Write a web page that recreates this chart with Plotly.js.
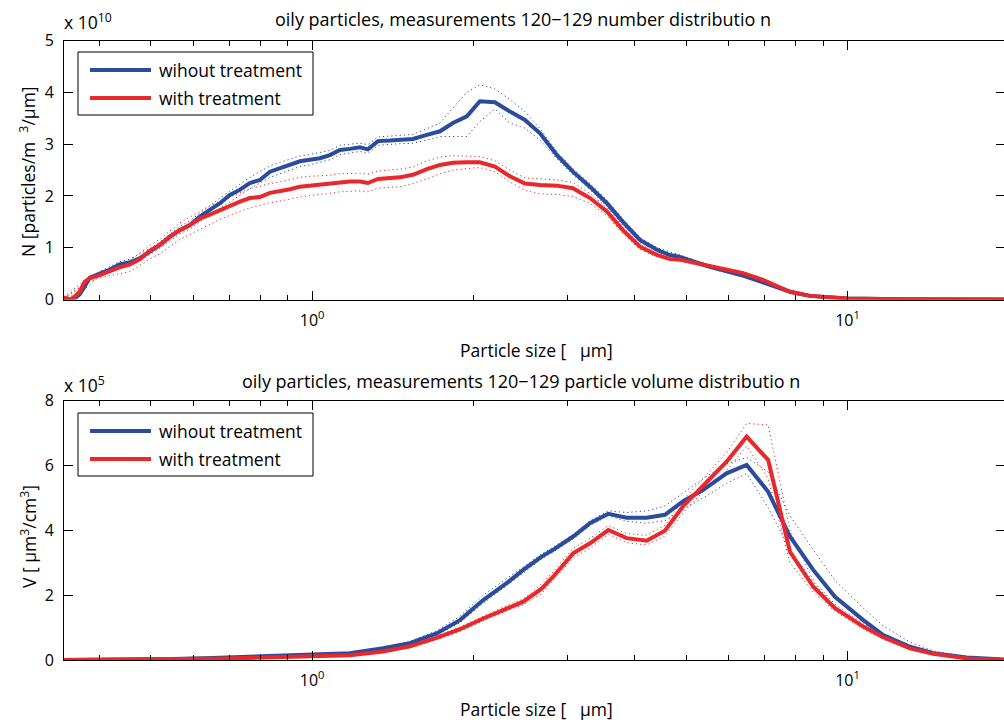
<!DOCTYPE html>
<html>
<head>
<meta charset="utf-8">
<script src="https://cdn.plot.ly/plotly-3.0.1.min.js"></script>
<style>
  html, body { margin: 0; padding: 0; overflow: hidden; background: #fff; }
</style>
</head>
<body>
<div id="chart"></div>
<script>
// ---- number distribution (N, units of 1e10 particles/m^3/µm) ----
const sizeN = [0.344, 0.353, 0.360, 0.368, 0.376, 0.384, 0.401, 0.419, 0.437, 0.457, 0.477, 0.497, 0.519, 0.542, 0.566, 0.591,
  0.617, 0.644, 0.673, 0.702, 0.733, 0.765, 0.799, 0.834, 0.870, 0.909, 0.949, 0.990, 1.034, 1.079, 1.127, 1.176, 1.228,
  1.271, 1.327, 1.397, 1.458, 1.542, 1.638, 1.733, 1.832, 1.945, 2.057, 2.194, 2.341, 2.497, 2.664, 2.865, 3.069, 3.303,
  3.552, 3.805, 4.095, 4.405, 4.658, 4.863, 5.533, 6.377, 6.950, 7.806, 8.506, 9.973, 12.53, 15.53, 19.68];
const numWithout = [0.0, 0.0, 0.02, 0.10, 0.25, 0.42, 0.50, 0.58, 0.68, 0.72, 0.80, 0.92, 1.05, 1.21, 1.34, 1.44,
  1.60, 1.73, 1.86, 2.02, 2.12, 2.25, 2.31, 2.47, 2.54, 2.60, 2.67, 2.70, 2.73, 2.79, 2.89, 2.91, 2.94,
  2.90, 3.06, 3.07, 3.09, 3.10, 3.18, 3.25, 3.41, 3.54, 3.83, 3.81, 3.63, 3.47, 3.21, 2.79, 2.47, 2.18,
  1.86, 1.50, 1.15, 0.96, 0.86, 0.82, 0.63, 0.46, 0.33, 0.15, 0.07, 0.02, 0.005, 0.002, 0.001];
const numWith = [0.04, 0.0, 0.05, 0.15, 0.34, 0.41, 0.47, 0.55, 0.62, 0.68, 0.78, 0.94, 1.05, 1.21, 1.34, 1.44,
  1.56, 1.64, 1.73, 1.82, 1.89, 1.96, 1.98, 2.06, 2.09, 2.13, 2.18, 2.20, 2.21, 2.23, 2.26, 2.28, 2.28,
  2.25, 2.33, 2.34, 2.36, 2.41, 2.52, 2.60, 2.64, 2.65, 2.65, 2.57, 2.38, 2.24, 2.21, 2.20, 2.15, 1.96,
  1.70, 1.34, 1.02, 0.86, 0.78, 0.77, 0.64, 0.51, 0.38, 0.15, 0.07, 0.02, 0.005, 0.002, 0.001];

// spread envelopes of the single measurements
const sizeNBand = [0.344, 0.376, 0.401, 0.437, 0.457, 0.497, 0.519, 0.566, 0.591, 0.644, 0.673, 0.733, 0.765, 0.834, 0.870,
  0.949, 0.990, 1.079, 1.127, 1.228, 1.271, 1.327, 1.458, 1.542, 1.638, 1.733, 1.832, 1.945, 2.057, 2.194, 2.341, 2.497,
  2.664, 2.865, 3.069, 3.303, 3.552, 3.805, 4.095, 4.405, 4.863, 5.533, 6.377, 6.950, 7.806, 8.506, 9.973, 12.53, 19.68];
const numWithoutHi = [0.02, 0.30, 0.54, 0.73, 0.78, 0.98, 1.11, 1.41, 1.52, 1.82, 1.96, 2.23, 2.36, 2.58, 2.65,
  2.77, 2.80, 2.88, 2.98, 3.02, 2.99, 3.14, 3.17, 3.19, 3.30, 3.41, 3.70, 4.00, 4.15, 4.07, 3.86, 3.63,
  3.30, 2.86, 2.53, 2.24, 1.92, 1.56, 1.20, 1.00, 0.86, 0.66, 0.48, 0.35, 0.16, 0.08, 0.02, 0.005, 0.001];
const numWithoutLo = [0.0, 0.20, 0.46, 0.63, 0.66, 0.86, 0.99, 1.27, 1.36, 1.64, 1.76, 2.01, 2.14, 2.36, 2.43,
  2.57, 2.60, 2.70, 2.80, 2.86, 2.82, 2.98, 3.01, 3.02, 3.08, 3.15, 3.15, 3.15, 3.44, 3.68, 3.41, 3.31,
  3.08, 2.72, 2.41, 2.12, 1.80, 1.45, 1.10, 0.92, 0.78, 0.60, 0.44, 0.31, 0.14, 0.06, 0.02, 0.004, 0.001];
const numWithHi = [0.05, 0.37, 0.51, 0.68, 0.76, 1.04, 1.16, 1.48, 1.59, 1.81, 1.90, 2.07, 2.14, 2.24, 2.27,
  2.36, 2.38, 2.40, 2.43, 2.44, 2.42, 2.48, 2.52, 2.56, 2.68, 2.75, 2.78, 2.77, 2.76, 2.68, 2.50, 2.35,
  2.33, 2.31, 2.26, 2.05, 1.78, 1.41, 1.07, 0.90, 0.80, 0.67, 0.54, 0.40, 0.16, 0.08, 0.02, 0.005, 0.001];
const numWithLo = [0.03, 0.30, 0.42, 0.50, 0.54, 0.78, 0.88, 1.16, 1.26, 1.46, 1.55, 1.70, 1.77, 1.87, 1.90,
  1.98, 2.01, 2.05, 2.08, 2.10, 2.08, 2.15, 2.18, 2.24, 2.33, 2.43, 2.50, 2.53, 2.55, 2.47, 2.27, 2.11,
  2.04, 2.03, 1.99, 1.86, 1.62, 1.27, 0.97, 0.82, 0.74, 0.61, 0.48, 0.36, 0.14, 0.06, 0.02, 0.005, 0.001];

// ---- particle volume distribution (V, units of 1e5 µm^3/cm^3) ----
const sizeV = [0.344, 0.45, 0.55, 0.65, 0.75, 0.85, 1.0, 1.176, 1.357, 1.522, 1.708, 1.888, 2.087, 2.308, 2.479, 2.683,
  2.819, 3.073, 3.303, 3.573, 3.867, 4.214, 4.559, 4.933, 5.376, 5.944, 6.479, 7.108, 7.806, 8.628, 9.474, 10.70,
  11.66, 13.08, 14.46, 16.69, 19.68];
const volWithout = [0, 0.01, 0.03, 0.06, 0.09, 0.12, 0.16, 0.21, 0.36, 0.52, 0.82, 1.23, 1.85, 2.37, 2.78, 3.19,
  3.40, 3.81, 4.22, 4.51, 4.39, 4.39, 4.48, 4.90, 5.25, 5.76, 6.02, 5.19, 3.81, 2.78, 1.95, 1.23,
  0.77, 0.41, 0.21, 0.08, 0.01];
const volWith = [0, 0.01, 0.02, 0.04, 0.06, 0.08, 0.11, 0.15, 0.26, 0.42, 0.68, 0.95, 1.28, 1.60, 1.80, 2.20,
  2.57, 3.29, 3.60, 4.01, 3.76, 3.68, 3.99, 4.75, 5.40, 6.12, 6.89, 6.17, 3.34, 2.26, 1.60, 1.03,
  0.70, 0.36, 0.19, 0.05, 0.0];
const volWithoutHi = [0, 0.01, 0.03, 0.06, 0.10, 0.13, 0.17, 0.23, 0.39, 0.57, 0.90, 1.35, 2.00, 2.50, 2.88, 3.27,
  3.48, 3.88, 4.30, 4.60, 4.55, 4.60, 4.75, 5.15, 5.60, 6.05, 6.25, 5.80, 4.45, 3.40, 2.45, 1.60,
  1.05, 0.55, 0.28, 0.10, 0.01];
const volWithoutLo = [0, 0.01, 0.03, 0.05, 0.08, 0.11, 0.15, 0.19, 0.33, 0.48, 0.76, 1.15, 1.75, 2.28, 2.68, 3.12,
  3.33, 3.74, 4.15, 4.45, 4.28, 4.22, 4.30, 4.65, 5.00, 5.45, 5.75, 4.70, 3.40, 2.40, 1.65, 1.05,
  0.65, 0.33, 0.17, 0.06, 0.0];
const volWithHi = [0, 0.01, 0.02, 0.04, 0.07, 0.09, 0.12, 0.17, 0.28, 0.46, 0.73, 1.02, 1.35, 1.68, 1.88, 2.35,
  2.72, 3.45, 3.75, 4.15, 3.90, 3.85, 4.15, 4.95, 5.60, 6.40, 7.30, 7.25, 4.00, 2.45, 1.72, 1.12,
  0.76, 0.40, 0.21, 0.06, 0.0];
const volWithLo = [0, 0.01, 0.02, 0.04, 0.05, 0.07, 0.10, 0.13, 0.24, 0.38, 0.63, 0.88, 1.21, 1.52, 1.70, 2.05,
  2.45, 3.15, 3.45, 3.88, 3.62, 3.55, 3.82, 4.55, 5.20, 5.85, 6.60, 5.60, 3.00, 2.10, 1.50, 0.95,
  0.64, 0.33, 0.17, 0.04, 0.0];

// ---- labels and ticks ----
const seriesNames = ['wihout treatment', 'with treatment'];
const xMajorTicks = [1, 10];
const xMajorText = ['10<sup>0</sup>', '10<sup>1</sup>'];
const xMinorTicks = [0.4, 0.5, 0.6, 0.7, 0.8, 0.9, 2, 3, 4, 5, 6, 7, 8, 9];
const yTicksN = [0, 1, 2, 3, 4, 5];
const yTicksV = [0, 2, 4, 6, 8];

const BLUE = '#2b4c9e';
const RED = '#e8282b';
const FONT = 'Open Sans, Noto Sans, sans-serif';

// page geometry (pixels) -> paper coordinates
const W = 1006, H = 724, ML = 64, MR = 1;
const PW = W - ML - MR;
const fx = px => (px - ML) / PW;
const fy = py => (H - py) / H;

function band(x, y, color, xa, ya) {
  return { x: x, y: y, xaxis: xa, yaxis: ya, type: 'scatter', mode: 'lines', showlegend: false,
    hoverinfo: 'skip', line: { color: color, width: 1, dash: '1.2px,3px' } };
}
function main(x, y, color, name, xa, ya) {
  return { x: x, y: y, xaxis: xa, yaxis: ya, type: 'scatter', mode: 'lines', name: name, showlegend: false,
    line: { color: color, width: 4 } };
}

const traces = [
  band(sizeNBand, numWithoutHi, BLUE, 'x', 'y'),
  band(sizeNBand, numWithoutLo, BLUE, 'x', 'y'),
  band(sizeNBand, numWithHi, RED, 'x', 'y'),
  band(sizeNBand, numWithLo, RED, 'x', 'y'),
  main(sizeN, numWithout, BLUE, seriesNames[0], 'x', 'y'),
  main(sizeN, numWith, RED, seriesNames[1], 'x', 'y'),
  band(sizeV, volWithoutHi, BLUE, 'x2', 'y2'),
  band(sizeV, volWithoutLo, BLUE, 'x2', 'y2'),
  band(sizeV, volWithHi, RED, 'x2', 'y2'),
  band(sizeV, volWithLo, RED, 'x2', 'y2'),
  main(sizeV, volWithout, BLUE, seriesNames[0], 'x2', 'y2'),
  main(sizeV, volWith, RED, seriesNames[1], 'x2', 'y2')
];

const xRange = [Math.log10(0.344), Math.log10(19.68)];

function xAxis(anchor) {
  return {
    type: 'log', range: xRange, anchor: anchor, domain: [0, 1],
    showline: true, linecolor: '#000', linewidth: 1, mirror: 'ticks',
    showgrid: false, zeroline: false,
    tickmode: 'array', tickvals: xMajorTicks, ticktext: xMajorText,
    ticks: 'inside', ticklen: 9, tickwidth: 1, tickcolor: '#000',
    ticklabelstandoff: 6,
    minor: { tickmode: 'array', tickvals: xMinorTicks, ticks: 'inside', ticklen: 5, tickwidth: 1, tickcolor: '#000', showgrid: false },
    tickfont: { family: FONT, size: 16, color: '#000' }
  };
}
function yAxis(anchor, domain, range, vals) {
  return {
    anchor: anchor, domain: domain, range: range,
    showline: true, linecolor: '#000', linewidth: 1, mirror: 'ticks',
    showgrid: false, zeroline: false,
    tickmode: 'array', tickvals: vals,
    ticks: 'inside', ticklen: 9, tickwidth: 1, tickcolor: '#000',
    ticklabelstandoff: 6,
    tickfont: { family: FONT, size: 16, color: '#000' }
  };
}

function text(str, px, py, opts) {
  return Object.assign({
    text: str, xref: 'paper', yref: 'paper', x: fx(px), y: fy(py),
    showarrow: false, xanchor: 'center', yanchor: 'middle',
    font: { family: FONT, size: 18, color: '#000' }
  }, opts || {});
}
const big = { family: FONT, size: 17.5, color: '#000' };

// legend drawn as a framed box with line samples
function legend(top) {
  const shapes = [
    { type: 'rect', xref: 'paper', yref: 'paper', x0: fx(78), x1: fx(313), y0: fy(top), y1: fy(top + 63),
      line: { color: '#000', width: 1 }, fillcolor: '#fff', layer: 'above' },
    { type: 'line', xref: 'paper', yref: 'paper', x0: fx(90), x1: fx(151), y0: fy(top + 18), y1: fy(top + 18),
      line: { color: BLUE, width: 4 }, layer: 'above' },
    { type: 'line', xref: 'paper', yref: 'paper', x0: fx(90), x1: fx(151), y0: fy(top + 46), y1: fy(top + 46),
      line: { color: RED, width: 4 }, layer: 'above' }
  ];
  const labels = [
    text(seriesNames[0], 157, top + 18, { xanchor: 'left', font: big }),
    text(seriesNames[1], 157, top + 46, { xanchor: 'left', font: big })
  ];
  return { shapes: shapes, labels: labels };
}
const legTop = legend(52);
const legBot = legend(413);

const annotations = [
  text('oily particles, measurements 120\u2212129 number distributio n', 523, 19),
  text('oily particles, measurements 120\u2212129 particle volume distributio n', 521, 381),
  text('x 10<sup>10</sup>', 62, 22, { xanchor: 'left', font: big }),
  text('x 10<sup>5</sup>', 62, 384, { xanchor: 'left', font: big }),
  text('Particle size [   \u00b5m]', 536, 350, { font: big }),
  text('Particle size [   \u00b5m]', 536, 709, { font: big }),
  text('N [particles/m  <sup>3</sup>/\u00b5m]', 28, 172, { textangle: -90, font: big }),
  text('V [ \u00b5m<sup>3</sup>/cm<sup>3</sup>]', 28, 537, { textangle: -90, font: big })
].concat(legTop.labels, legBot.labels);

const layout = {
  width: W, height: H,
  margin: { l: ML, r: MR, t: 0, b: 0, pad: 0 },
  paper_bgcolor: '#fff', plot_bgcolor: '#fff',
  showlegend: false,
  font: { family: FONT, size: 16, color: '#000' },
  xaxis: xAxis('y'),
  yaxis: yAxis('x', [fy(299.5), fy(40.7)], [0, 5], yTicksN),
  xaxis2: xAxis('y2'),
  yaxis2: yAxis('x2', [fy(660), fy(400.7)], [0, 8], yTicksV),
  shapes: legTop.shapes.concat(legBot.shapes),
  annotations: annotations
};

Plotly.newPlot('chart', traces, layout, { displayModeBar: false, staticPlot: true });
</script>
</body>
</html>
